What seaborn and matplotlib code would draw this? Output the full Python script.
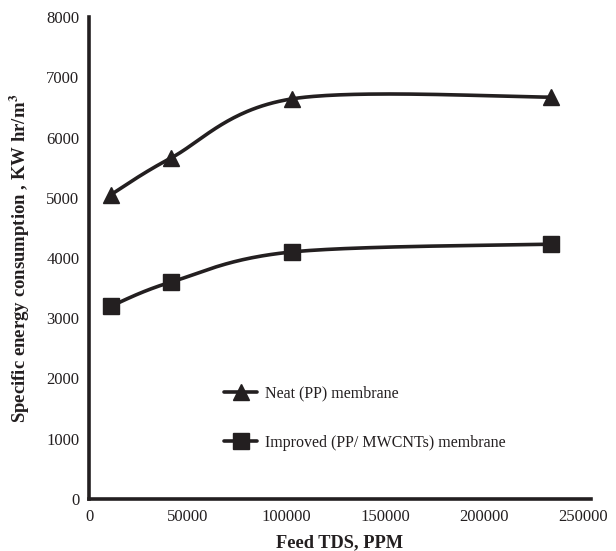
import numpy as np
import pandas as pd
import matplotlib
matplotlib.use("Agg")
import matplotlib.pyplot as plt
from matplotlib.lines import Line2D
import seaborn as sns

# Feed TDS (ppm) and specific energy consumption (kW hr/m3)
feed_tds = [11000, 41500, 102500, 234000]
neat_pp = [5050, 5660, 6640, 6670]
improved_pp_mwcnt = [3200, 3600, 4100, 4230]
series_names = ["Neat (PP) membrane", "Improved (PP/ MWCNTs) membrane"]
x_ticks = [0, 50000, 100000, 150000, 200000, 250000]
y_ticks = [0, 1000, 2000, 3000, 4000, 5000, 6000, 7000, 8000]

XMAX, YMAX = 254000, 8000


def smooth_curve(xs, ys, n=60):
    """Cardinal (Catmull-Rom style) Bezier smoothing, computed in
    axis-normalised space so the curve shape follows the drawn scale."""
    px = np.asarray(xs, float) / XMAX
    py = np.asarray(ys, float) / YMAX * (482 / 502)
    pts = np.column_stack([px, py])
    out = []
    for i in range(len(pts) - 1):
        p0 = pts[max(i - 1, 0)]
        p1 = pts[i]
        p2 = pts[i + 1]
        p3 = pts[min(i + 2, len(pts) - 1)]
        c1 = p1 + (p2 - p0) / 6.0
        c2 = p2 - (p3 - p1) / 6.0
        t = np.linspace(0, 1, n)[:, None]
        seg = ((1 - t) ** 3) * p1 + 3 * ((1 - t) ** 2) * t * c1 \
            + 3 * (1 - t) * t ** 2 * c2 + t ** 3 * p2
        if i > 0:
            seg = seg[1:]
        out.append(seg)
    c = np.vstack(out)
    return c[:, 0] * XMAX, c[:, 1] / (482 / 502) * YMAX


sns.set_theme(style="white")
plt.rcParams["font.family"] = ["Liberation Serif", "DejaVu Serif"]
plt.rcParams["mathtext.fontset"] = "stix"

INK = "#231f20"

fig = plt.figure(figsize=(6.16, 5.51), dpi=100)
ax = fig.add_axes([89 / 616, 1 - 499 / 551, 502 / 616, 482 / 551])

markers = ["^", "s"]
sizes = [12, 12]
handles = []
for name, vals, mk, ms in zip(series_names, [neat_pp, improved_pp_mwcnt], markers, sizes):
    sx, sy = smooth_curve(feed_tds, vals)
    curve = pd.DataFrame({"x": sx, "y": sy})
    sns.lineplot(data=curve, x="x", y="y", sort=False, color=INK,
                 linewidth=2.6, ax=ax, legend=False)
    pts = pd.DataFrame({"x": feed_tds, "y": vals})
    ax.plot(pts["x"], pts["y"], linestyle="none", marker=mk, markersize=ms,
            color=INK, markeredgecolor=INK, zorder=5)
    handles.append(Line2D([0], [0], color=INK, linewidth=2.6, marker=mk,
                          markersize=ms, label=name))

ax.set_xlim(0, XMAX)
ax.set_ylim(0, YMAX)
ax.set_xticks(x_ticks)
ax.set_yticks(y_ticks)
ax.set_xticklabels([str(t) for t in x_ticks])
ax.set_yticklabels([str(t) for t in y_ticks])
ax.tick_params(axis="both", length=0, labelsize=12, colors=INK)
ax.tick_params(axis="y", pad=7)
ax.tick_params(axis="x", pad=7)

for side in ["top", "right"]:
    ax.spines[side].set_visible(False)
for side in ["left", "bottom"]:
    ax.spines[side].set_linewidth(2.6)
    ax.spines[side].set_color(INK)
ax.grid(False)

ax.set_xlabel("Feed TDS, PPM", fontsize=13.2, fontweight="bold", color=INK, labelpad=7)
ax.set_ylabel("Specific energy consumption , KW hr/m$^\\mathbf{3}$", fontsize=13.5,
              fontweight="bold", color=INK, labelpad=10)

leg = ax.legend(handles=handles, loc="lower left", bbox_to_anchor=(0.24, 0.07),
                frameon=False, fontsize=11.5, handlelength=2.1, labelspacing=2.1,
                handletextpad=0.45)
for t in leg.get_texts():
    t.set_color(INK)

fig.savefig("out.png", dpi=100)
